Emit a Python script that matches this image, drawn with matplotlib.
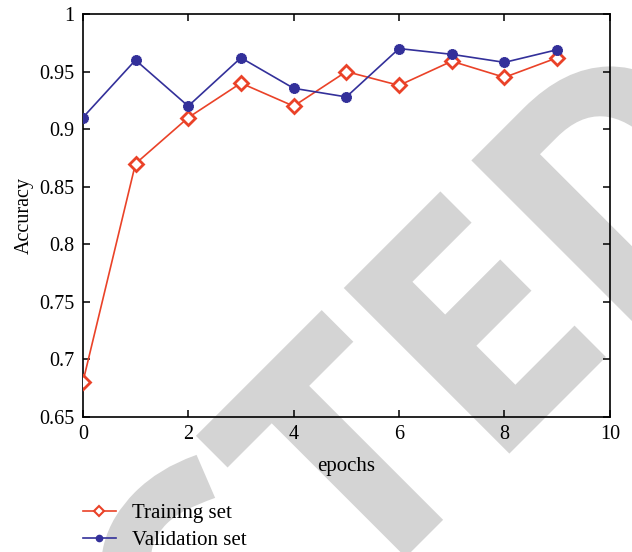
import matplotlib
matplotlib.use('Agg')
import matplotlib.pyplot as plt
from matplotlib.lines import Line2D
from matplotlib.ticker import FuncFormatter
from matplotlib.textpath import TextPath
from matplotlib.patches import PathPatch
from matplotlib.font_manager import FontProperties
from matplotlib.transforms import Affine2D

plt.rcParams['font.family'] = 'Liberation Serif'

epochs = [0, 1, 2, 3, 4, 5, 6, 7, 8, 9]
train_acc = [0.680, 0.870, 0.910, 0.940, 0.920, 0.950, 0.938, 0.959, 0.945, 0.962]
val_acc = [0.910, 0.960, 0.920, 0.962, 0.9355, 0.928, 0.970, 0.965, 0.958, 0.969]

red = '#ea4228'
blue = '#33309a'

W, H = 632, 552
fig = plt.figure(figsize=(W / 100, H / 100), dpi=100)

# grey diagonal stamp behind the plot, drawn as a path in pixel coordinates
fp = FontProperties(family='Open Sans', weight='bold')
stamp = TextPath((0, 0), 'RETRACTED', size=1, prop=fp)
cap_h = TextPath((0, 0), 'E', size=1, prop=fp).get_extents().height
end_x = TextPath((0, 0), 'RETRACTE', size=1, prop=fp).get_extents().x1
sy = 230 / cap_h
sx = sy
tr = (Affine2D().translate(-end_x, 0).scale(sx, sy).rotate_deg(45)
      .translate(603, H - 357))
fig.add_artist(PathPatch(stamp, transform=tr, facecolor='#d4d4d4',
                         edgecolor='#d4d4d4', lw=3, zorder=-1))

ax = fig.add_axes([0.131, 0.2446, 0.834, 0.73])
ax.patch.set_alpha(0)

ax.plot(epochs, train_acc, color=red, lw=1.2, marker='D', ms=7, mew=2,
        mfc='white', mec=red, zorder=3)
ax.plot(epochs, val_acc, color=blue, lw=1.2, marker=(8, 1, 0), ms=7, mew=2.5,
        mfc=blue, mec=blue, zorder=4)

ax.set_xlim(0, 10)
ax.set_ylim(0.65, 1.0)
ax.set_xticks([0, 2, 4, 6, 8, 10])
ax.set_yticks([0.65, 0.7, 0.75, 0.8, 0.85, 0.9, 0.95, 1.0])
ax.yaxis.set_major_formatter(FuncFormatter(lambda v, p: f'{v:g}'))
ax.tick_params(direction='in', length=5, width=1.1, top=True, right=True,
               labelsize=14.5, pad=6)
for s in ax.spines.values():
    s.set_linewidth(1.2)

ax.set_xlabel('epochs', fontsize=15, labelpad=9)
ax.set_ylabel('Accuracy', fontsize=14.5, labelpad=4)

handles = [
    Line2D([], [], color=red, lw=1.2, marker='D', ms=5, mew=1.5, mfc='white', mec=red),
    Line2D([], [], color=blue, lw=1.2, marker='o', ms=4.5, mfc=blue, mec=blue),
]
fig.legend(handles, ['Training set', 'Validation set'], loc='upper left',
           bbox_to_anchor=(0.131, 0.088), frameon=False, fontsize=15,
           handlelength=1.6, handletextpad=0.75, labelspacing=0.35,
           borderpad=0, borderaxespad=0)

fig.savefig('out.png', dpi=100)
